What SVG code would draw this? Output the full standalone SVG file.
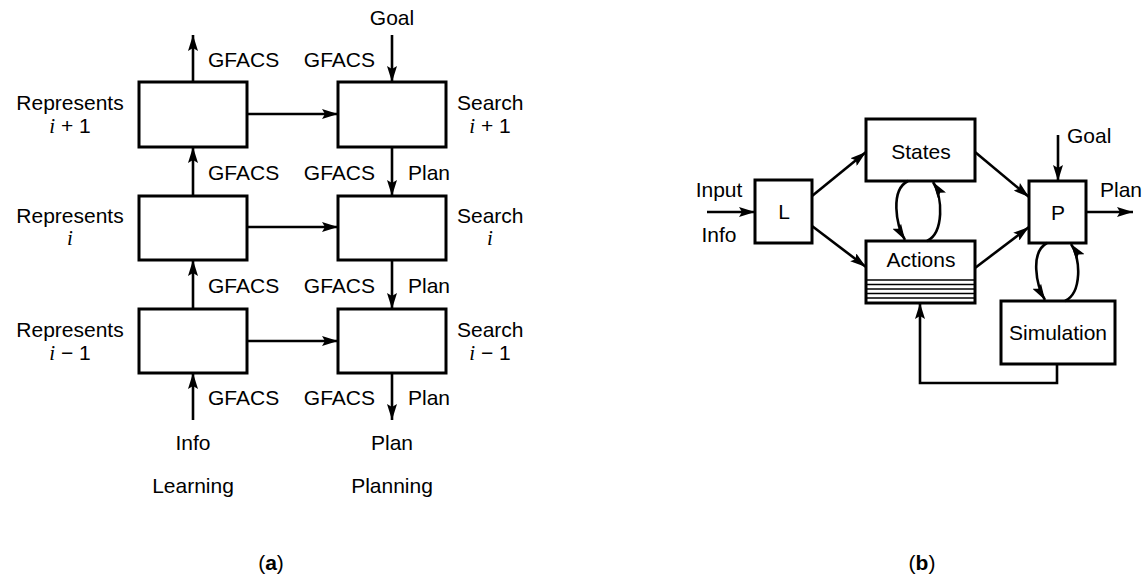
<svg xmlns="http://www.w3.org/2000/svg" width="1144" height="575" viewBox="0 0 1144 575">
<style>
text{font-family:"Liberation Sans",Arial,sans-serif;font-size:21px;fill:#000}
.it{font-family:"Liberation Serif","Times New Roman",serif;font-style:italic}
.box{fill:#fff;stroke:#000;stroke-width:3}
.ar{fill:none;stroke:#000;stroke-width:2.6;marker-end:url(#ah)}
.st{stroke:#000;stroke-width:1.4}
.c{text-anchor:middle}
.e{text-anchor:end}
</style>
<defs>
<marker id="ah" markerUnits="userSpaceOnUse" viewBox="0 0 16 10" refX="16" refY="5" markerWidth="16" markerHeight="10" orient="auto">
<path d="M0,0 L16,5 L0,10 L3,5 Z" fill="#000"/>
</marker>
</defs>
<!-- (a) -->
<g id="rep1"><rect class="box" x="139" y="82" width="108" height="65"/><text class="c" x="70" y="110">Represents</text><text class="c" x="70" y="133"><tspan class="it">i</tspan> + 1</text></g>
<g id="rep0"><rect class="box" x="139" y="196" width="108" height="64"/><text class="c" x="70" y="223">Represents</text><text class="c it" x="70" y="245">i</text></g>
<g id="repm1"><rect class="box" x="139" y="309" width="108" height="64"/><text class="c" x="70" y="337">Represents</text><text class="c" x="70" y="360"><tspan class="it">i</tspan> − 1</text></g>
<g id="srch1"><rect class="box" x="338" y="82" width="108" height="65"/><text x="457" y="110">Search</text><text class="c" x="490" y="133"><tspan class="it">i</tspan> + 1</text></g>
<g id="srch0"><rect class="box" x="338" y="196" width="108" height="64"/><text x="457" y="223">Search</text><text class="c it" x="490" y="245">i</text></g>
<g id="srchm1"><rect class="box" x="338" y="309" width="108" height="64"/><text x="457" y="337">Search</text><text class="c" x="490" y="360"><tspan class="it">i</tspan> − 1</text></g>
<g id="labels-a">
<text class="c" x="392" y="25">Goal</text>
<text x="208" y="67">GFACS</text><text class="e" x="375" y="67">GFACS</text>
<text x="208" y="180">GFACS</text><text class="e" x="375" y="180">GFACS</text><text x="408" y="180">Plan</text>
<text x="208" y="293">GFACS</text><text class="e" x="375" y="293">GFACS</text><text x="408" y="293">Plan</text>
<text x="208" y="405">GFACS</text><text class="e" x="375" y="405">GFACS</text><text x="408" y="405">Plan</text>
<text class="c" x="193" y="450">Info</text><text class="c" x="392" y="450">Plan</text>
<text class="c" x="193" y="493">Learning</text><text class="c" x="392" y="493">Planning</text>
<text class="c" x="271" y="570">(<tspan font-weight="bold">a</tspan>)</text>
</g>
<!-- (b) -->
<g id="L"><rect class="box" x="755" y="180" width="57" height="63"/><text class="c" x="784" y="219">L</text></g>
<g id="states"><rect class="box" x="866" y="119" width="109" height="62"/><text class="c" x="921" y="159">States</text></g>
<g id="actions"><rect class="box" x="866" y="241" width="109" height="62"/><text class="c" x="921" y="267">Actions</text>
<line class="st" x1="866" y1="280" x2="975" y2="280"/><line class="st" x1="866" y1="284.5" x2="975" y2="284.5"/><line class="st" x1="866" y1="289" x2="975" y2="289"/><line class="st" x1="866" y1="293.5" x2="975" y2="293.5"/><line class="st" x1="866" y1="298" x2="975" y2="298"/></g>
<g id="P"><rect class="box" x="1029" y="181" width="57" height="62"/><text class="c" x="1058" y="220">P</text></g>
<g id="sim"><rect class="box" x="1001" y="301" width="114" height="63"/><text class="c" x="1058" y="340">Simulation</text></g>
<g id="labels-b">
<text class="c" x="719" y="197">Input</text><text class="c" x="719" y="242">Info</text>
<text x="1067" y="143">Goal</text><text x="1100" y="197">Plan</text>
<text class="c" x="922" y="570">(<tspan font-weight="bold">b</tspan>)</text>
</g>
<g id="connectors">
<line class="ar" x1="193" y1="82" x2="193" y2="35"/>
<line class="ar" x1="392" y1="35" x2="392" y2="82"/>
<line class="ar" x1="247" y1="114" x2="338" y2="114"/>
<line class="ar" x1="247" y1="227" x2="338" y2="227"/>
<line class="ar" x1="247" y1="341" x2="338" y2="341"/>
<line class="ar" x1="193" y1="196" x2="193" y2="147"/>
<line class="ar" x1="193" y1="309" x2="193" y2="260"/>
<line class="ar" x1="193" y1="420" x2="193" y2="373"/>
<line class="ar" x1="392" y1="147" x2="392" y2="196"/>
<line class="ar" x1="392" y1="260" x2="392" y2="309"/>
<line class="ar" x1="392" y1="373" x2="392" y2="420"/>
<line class="ar" x1="707" y1="212" x2="755" y2="212"/>
<line class="ar" x1="812" y1="196" x2="866" y2="152"/>
<line class="ar" x1="812" y1="226" x2="866" y2="267"/>
<line class="ar" x1="975" y1="152" x2="1029" y2="197"/>
<line class="ar" x1="975" y1="268" x2="1029" y2="227"/>
<line class="ar" x1="1058" y1="135" x2="1058" y2="181"/>
<line class="ar" x1="1086" y1="212" x2="1133" y2="212"/>
<path class="ar" d="M908,181 C890,190 896,225 905,240"/>
<path class="ar" d="M927,241 C944,233 943,197 933,182"/>
<path class="ar" d="M1047,243 C1030,252 1036,285 1045,300"/>
<path class="ar" d="M1065,301 C1082,293 1081,258 1071,244"/>
<polyline class="ar" points="1057,364 1057,383 920,383 920,303"/>
</g>
</svg>
